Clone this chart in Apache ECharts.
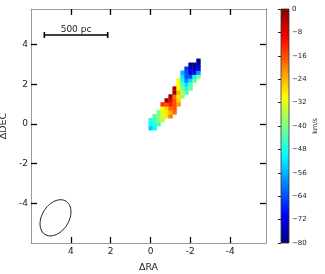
<!DOCTYPE html>
<html><head><meta charset="utf-8">
<script src="https://cdn.jsdelivr.net/npm/echarts@6/dist/echarts.min.js"></script>
<style>html,body{margin:0;padding:0;background:#fff}#c{width:325px;height:274px}</style>
</head><body><div id="c"></div>
<script>
// ---- data ----
const cellSize = 0.2;
const rowDec = [-0.2, 0.0, 0.2, 0.4, 0.6, 0.8, 1.0, 1.2, 1.4, 1.6, 1.8, 2.0, 2.2, 2.4, 2.6, 2.8, 3.0, 3.2];
const rowRaStart = [0.0, 0.0, 0.0, -0.2, -0.4, -0.6, -0.6, -0.8, -1.0, -1.2, -1.2, -1.4, -1.4, -1.6, -1.6, -1.8, -2.0, -2.4];
const rowVel = [
  [-54, -50],
  [-50, -47, -44],
  [-48, -44, -40, -36],
  [-44, -40, -33, -28, -20],
  [-40, -32, -28, -24, -18],
  [-30, -27, -18, -16],
  [-14, -16, -12, -16, -22],
  [-2, -8, -16, -26],
  [-2, -18, -28, -38],
  [-2, -24, -36, -44],
  [-4, -30, -40, -48, -42],
  [-30, -44, -52, -44],
  [-30, -50, -60, -52, -42],
  [-52, -64, -64, -50, -40],
  [-56, -64, -72, -70, -58],
  [-66, -76, -78, -72],
  [-78, -78, -76],
  [-80]
];
const axisTicks = [-4, -2, 0, 2, 4];
const cbarTicks = [0, -8, -16, -24, -32, -40, -48, -56, -64, -72, -80];
const velMin = -80, velMax = 0;
const scaleBar = {ra0: 5.33, ra1: 2.15, dec: 4.49, label: '500 pc'};
const beam = {ra: 4.77, dec: -4.73, major: 0.99, minor: 0.675, tiltDeg: 32};

// ---- build ----
const cells = [];
rowDec.forEach((d, j) => {
  rowVel[j].forEach((v, k) => {
    if (v !== null) cells.push([rowRaStart[j] - k * cellSize, d, v]);
  });
});
function jet(t) {
  const c = x => Math.max(0, Math.min(1, x));
  const r = c(1.5 - Math.abs(4 * t - 3)), g = c(1.5 - Math.abs(4 * t - 2)), b = c(1.5 - Math.abs(4 * t - 1));
  return 'rgb(' + Math.round(r * 255) + ',' + Math.round(g * 255) + ',' + Math.round(b * 255) + ')';
}
const jetColors = [], jetStops = [];
for (let i = 0; i <= 40; i++) { jetColors.push(jet(i / 40)); jetStops.push({offset: i / 40, color: jet(i / 40)}); }

const FONT = 'DejaVu Sans';
const chart = echarts.init(document.getElementById('c'), null, {renderer: 'canvas'});
const mainAxisCommon = {
  type: 'value', gridIndex: 0,
  axisLine: {show: true, onZero: false, lineStyle: {color: '#999', width: 1}},
  axisTick: {show: true, inside: true, length: 6, customValues: axisTicks, lineStyle: {color: '#000', width: 1.3}},
  splitLine: {show: false}
};
chart.setOption({
  animation: false,
  grid: [
    {left: 31, top: 9, width: 235, height: 234, containLabel: false, outerBoundsMode: 'none'},
    {left: 281, top: 9, width: 8, height: 234, containLabel: false, outerBoundsMode: 'none'}
  ],
  xAxis: [
    Object.assign({}, mainAxisCommon, {min: -5.8, max: 6, inverse: true, position: 'bottom',
      name: 'ΔRA', nameLocation: 'middle', nameGap: 20,
      nameTextStyle: {fontFamily: FONT, fontSize: 9.5, color: '#222'},
      axisLabel: {customValues: axisTicks, margin: 4, fontFamily: FONT, fontSize: 9, color: '#222'}}),
    Object.assign({}, mainAxisCommon, {min: -5.8, max: 6, inverse: true, position: 'top', axisLabel: {show: false}}),
    {type: 'value', gridIndex: 1, min: 0, max: 1, show: false}
  ],
  yAxis: [
    Object.assign({}, mainAxisCommon, {min: -6, max: 5.8, position: 'left',
      name: 'ΔDEC', nameLocation: 'middle', nameGap: 18, nameRotate: 90,
      nameTextStyle: {fontFamily: FONT, fontSize: 9.5, color: '#222'},
      axisLabel: {customValues: axisTicks, margin: 3, fontFamily: FONT, fontSize: 9, color: '#222'}}),
    Object.assign({}, mainAxisCommon, {min: -6, max: 5.8, position: 'right', axisLabel: {show: false}}),
    {type: 'value', gridIndex: 1, min: velMin, max: velMax, position: 'right',
      axisLine: {show: false},
      axisTick: {show: true, inside: true, length: 3, customValues: cbarTicks, lineStyle: {color: '#222', width: 1}},
      axisLabel: {customValues: cbarTicks, margin: 3, fontFamily: FONT, fontSize: 7, color: '#222',
        formatter: v => (v < 0 ? '\u2212' + Math.abs(v) : String(v))},
      splitLine: {show: false},
      name: 'km/s', nameLocation: 'middle', nameGap: 23, nameRotate: 90,
      nameTextStyle: {fontFamily: FONT, fontSize: 6.5, color: '#222'}}
  ],
  visualMap: [{type: 'continuous', show: false, seriesIndex: 0, dimension: 2, min: velMin, max: velMax,
    inRange: {color: jetColors}}],
  series: [
    {type: 'custom', xAxisIndex: 0, yAxisIndex: 0, data: cells, encode: {x: 0, y: 1},
      renderItem: function (params, api) {
        const ra = api.value(0), dec = api.value(1), h = cellSize / 2;
        const p1 = api.coord([ra + h, dec + h]), p2 = api.coord([ra - h, dec - h]);
        const x = Math.min(p1[0], p2[0]), y = Math.min(p1[1], p2[1]);
        return {type: 'rect', shape: {x: x, y: y, width: Math.abs(p1[0] - p2[0]) + 0.4, height: Math.abs(p1[1] - p2[1]) + 0.4},
          style: {fill: api.visual('color')}};
      }},
    {type: 'custom', xAxisIndex: 0, yAxisIndex: 0, data: [[scaleBar.ra0, scaleBar.dec]], silent: true,
      renderItem: function (params, api) {
        const a = api.coord([scaleBar.ra0, scaleBar.dec]), b = api.coord([scaleBar.ra1, scaleBar.dec]);
        return {type: 'group', children: [
          {type: 'line', shape: {x1: a[0], y1: a[1], x2: b[0], y2: b[1]}, style: {stroke: '#000', lineWidth: 1.6}},
          {type: 'line', shape: {x1: a[0], y1: a[1] - 3, x2: a[0], y2: a[1] + 3}, style: {stroke: '#000', lineWidth: 1.6}},
          {type: 'line', shape: {x1: b[0], y1: b[1] - 3, x2: b[0], y2: b[1] + 3}, style: {stroke: '#000', lineWidth: 1.6}},
          {type: 'text', style: {text: scaleBar.label, x: (a[0] + b[0]) / 2, y: a[1] - 1, align: 'center', verticalAlign: 'bottom',
            fontFamily: FONT, fontSize: 9, fill: '#222'}}
        ]};
      }},
    {type: 'custom', xAxisIndex: 0, yAxisIndex: 0, data: [[beam.ra, beam.dec]], silent: true,
      renderItem: function (params, api) {
        const c = api.coord([beam.ra, beam.dec]);
        const s = api.size([1, 1]);
        const th = beam.tiltDeg * Math.PI / 180;
        const pts = [];
        for (let k = 0; k <= 72; k++) {
          const t = k / 72 * 2 * Math.PI;
          const u = beam.major * Math.cos(t), v = beam.minor * Math.sin(t);
          pts.push([c[0] + (u * Math.sin(th) + v * Math.cos(th)) * s[0],
                    c[1] + (-u * Math.cos(th) + v * Math.sin(th)) * s[1]]);
        }
        return {type: 'polyline', shape: {points: pts}, style: {stroke: '#000', lineWidth: 0.9, fill: null}};
      }},
    {type: 'custom', xAxisIndex: 2, yAxisIndex: 2, data: [[0, velMin]], silent: true,
      renderItem: function (params, api) {
        const p1 = api.coord([0, velMax]), p2 = api.coord([1, velMin]);
        return {type: 'rect', shape: {x: p1[0], y: p1[1], width: p2[0] - p1[0], height: p2[1] - p1[1]},
          style: {fill: {type: 'linear', x: 0, y: 1, x2: 0, y2: 0, colorStops: jetStops}, stroke: '#333', lineWidth: 0.8}};
      }}
  ]
});
</script></body></html>
